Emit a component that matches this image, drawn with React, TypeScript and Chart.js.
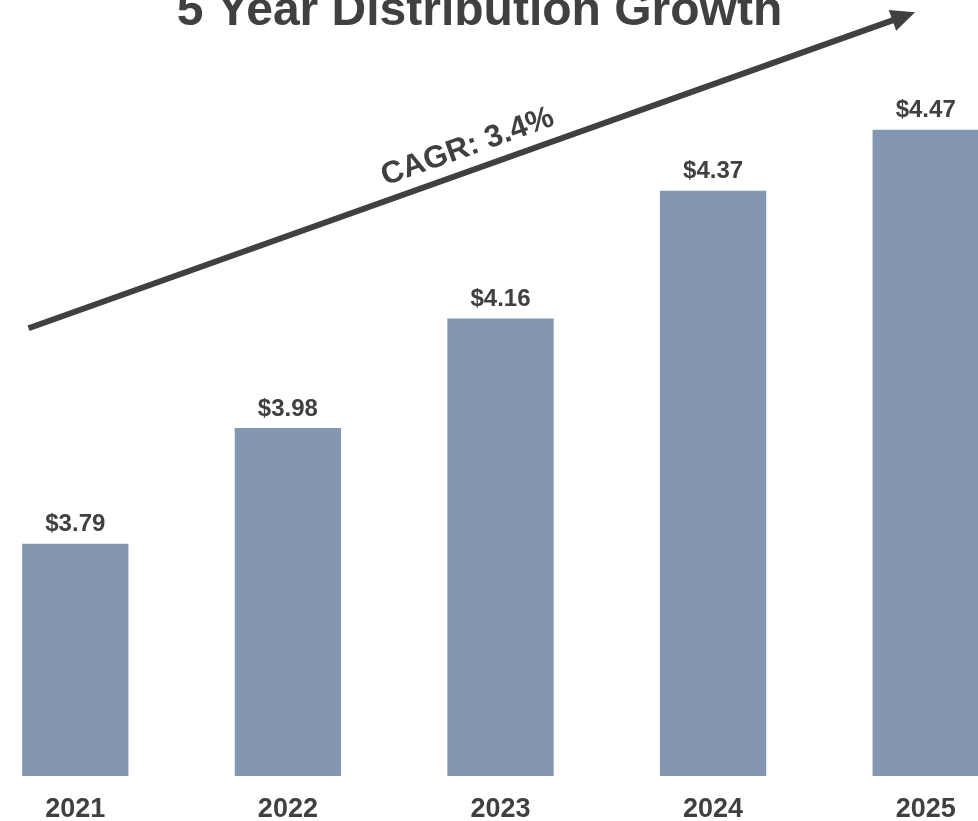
import React, { useEffect, useRef } from "react";
import { Chart, registerables } from "chart.js";

Chart.register(...registerables);

// ---- data ----
const categories = ["2021", "2022", "2023", "2024", "2025"];
const distributions = [3.79, 3.98, 4.16, 4.37, 4.47];
const titleText = "5 Year Distribution Growth";
const cagrLabel = "CAGR: 3.4%";
// arrow annotation in data space (category index, value)
const arrowStart = { x: -0.22, y: 4.144 };
const arrowEnd = { x: 3.95, y: 4.663 };
const Y_MIN = 3.4085;
const Y_MAX = 4.67;

// ---- style ----
const FONT = "'Liberation Sans', Arial, Helvetica, sans-serif";
const TEXT = "#404040";
const BAR = "#8497B0";

const overlayPlugin = {
  id: "overlay",
  afterDatasetsDraw(chart: any) {
    const ctx = chart.ctx as CanvasRenderingContext2D;
    const xs = chart.scales.x;
    const ys = chart.scales.y;
    ctx.save();

    // value labels
    const meta = chart.getDatasetMeta(0);
    ctx.fillStyle = TEXT;
    ctx.font = `bold 24px ${FONT}`;
    ctx.textAlign = "center";
    ctx.textBaseline = "alphabetic";
    meta.data.forEach((bar: any, i: number) => {
      ctx.fillText("$" + distributions[i].toFixed(2), bar.x, bar.y - 12.5);
    });

    // arrow
    const x1 = xs.getPixelForValue(arrowStart.x);
    const y1 = ys.getPixelForValue(arrowStart.y);
    const x2 = xs.getPixelForValue(arrowEnd.x);
    const y2 = ys.getPixelForValue(arrowEnd.y);
    const ang = Math.atan2(y2 - y1, x2 - x1);
    const c = Math.cos(ang);
    const s = Math.sin(ang);
    const headLen = 24;
    const headW = 11;
    const bx = x2 - headLen * c;
    const by = y2 - headLen * s;
    ctx.strokeStyle = TEXT;
    ctx.lineWidth = 6;
    ctx.lineCap = "butt";
    ctx.beginPath();
    ctx.moveTo(x1, y1);
    ctx.lineTo(bx + 3 * c, by + 3 * s);
    ctx.stroke();
    ctx.beginPath();
    ctx.moveTo(x2, y2);
    ctx.lineTo(bx + headW * s, by - headW * c);
    ctx.lineTo(bx - headW * s, by + headW * c);
    ctx.closePath();
    ctx.fill();

    // CAGR label along arrow
    ctx.save();
    ctx.translate((x1 + x2) / 2 + 4, (y1 + y2) / 2);
    ctx.rotate(ang);
    ctx.font = `bold 31px ${FONT}`;
    ctx.textAlign = "center";
    ctx.textBaseline = "alphabetic";
    ctx.fillText(cagrLabel, 0, -16);
    ctx.restore();

    // title
    ctx.font = `bold 48px ${FONT}`;
    ctx.textAlign = "center";
    ctx.textBaseline = "alphabetic";
    ctx.fillText(titleText, chart.width / 2 - 21, 25);

    ctx.restore();
  },
};

export default function App() {
  const ref = useRef<HTMLCanvasElement | null>(null);

  useEffect(() => {
    if (!ref.current) return;
    const chart = new Chart(ref.current, {
      type: "bar",
      data: {
        labels: categories,
        datasets: [
          {
            data: distributions,
            backgroundColor: BAR,
            borderWidth: 0,
            categoryPercentage: 1,
            barPercentage: 0.5,
          },
        ],
      },
      options: {
        animation: false,
        responsive: true,
        maintainAspectRatio: false,
        layout: { padding: { top: 8, bottom: 2, left: 0, right: 0 } },
        plugins: {
          legend: { display: false },
          tooltip: { enabled: false },
          title: { display: false },
        },
        scales: {
          x: {
            grid: { display: false, drawTicks: false },
            border: { display: false },
            ticks: {
              color: TEXT,
              padding: 20.5,
              font: { family: FONT, size: 27, weight: "bold", lineHeight: 1 },
            },
          },
          y: {
            display: false,
            min: Y_MIN,
            max: Y_MAX,
          },
        },
      },
      plugins: [overlayPlugin],
    });
    return () => chart.destroy();
  }, []);

  return (
    <div
      style={{
        position: "fixed",
        left: 0,
        top: 0,
        width: 978,
        height: 821,
        overflow: "hidden",
        background: "#ffffff",
      }}
    >
      <div style={{ position: "absolute", left: -31, top: 0, width: 1063, height: 846 }}>
        <canvas ref={ref} />
      </div>
    </div>
  );
}
